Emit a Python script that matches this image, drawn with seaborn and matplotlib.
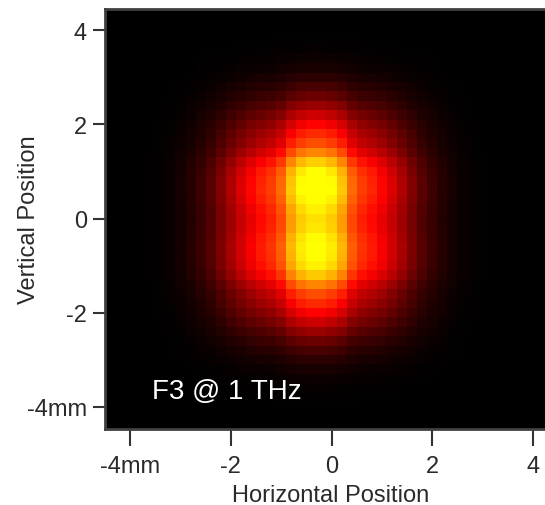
import numpy as np
import pandas as pd
import matplotlib
matplotlib.use("Agg")
import matplotlib.pyplot as plt
from matplotlib.colors import LinearSegmentedColormap
import seaborn as sns

# ---- data (cell centres every 0.2 mm) ----
x_mm = [-4.4, -4.2, -4.0, -3.8, -3.6, -3.4, -3.2, -3.0, -2.8, -2.6,
        -2.4, -2.2, -2.0, -1.8, -1.6, -1.4, -1.2, -1.0, -0.8, -0.6,
        -0.4, -0.2, 0.0, 0.2, 0.4, 0.6, 0.8, 1.0, 1.2, 1.4,
        1.6, 1.8, 2.0, 2.2, 2.4, 2.6, 2.8, 3.0, 3.2, 3.4,
        3.6, 3.8, 4.0, 4.2, 4.4]
horizontal_profile = [0, 0, 0, 0, 0.005, 0.01, 0.02, 0.04, 0.07, 0.11,
                      0.16, 0.23, 0.31, 0.39, 0.46, 0.52, 0.57, 0.66, 0.84, 0.95,
                      1.0, 1.0, 0.95, 0.84, 0.66, 0.57, 0.52, 0.46, 0.39, 0.31,
                      0.23, 0.16, 0.11, 0.07, 0.04, 0.02, 0.01, 0.005, 0, 0,
                      0, 0, 0, 0, 0]
y_mm = [4.4, 4.2, 4.0, 3.8, 3.6, 3.4, 3.2, 3.0, 2.8, 2.6,
        2.4, 2.2, 2.0, 1.8, 1.6, 1.4, 1.2, 1.0, 0.8, 0.6,
        0.4, 0.2, 0.0, -0.2, -0.4, -0.6, -0.8, -1.0, -1.2, -1.4,
        -1.6, -1.8, -2.0, -2.2, -2.4, -2.6, -2.8, -3.0, -3.2, -3.4,
        -3.6, -3.8, -4.0, -4.2, -4.4]
vertical_profile = [0, 0, 0.003, 0.006, 0.012, 0.025, 0.045, 0.08, 0.13, 0.19,
                    0.27, 0.36, 0.45, 0.53, 0.60, 0.71, 0.85, 0.95, 0.99, 1.0,
                    0.97, 0.92, 0.89, 0.90, 0.94, 0.96, 0.95, 0.92, 0.84, 0.71,
                    0.60, 0.53, 0.45, 0.36, 0.27, 0.19, 0.13, 0.08, 0.045, 0.025,
                    0.012, 0.006, 0.003, 0, 0]
x_ticks = [-4, -2, 0, 2, 4]
x_ticklabels = ["-4mm", "-2", "0", "2", "4"]
y_ticks = [4, 2, 0, -2, -4]
y_ticklabels = ["4", "2", "0", "-2", "-4mm"]
annotation = "F3 @ 1 THz"

intensity = pd.DataFrame(np.outer(vertical_profile, horizontal_profile),
                         index=y_mm, columns=x_mm)

# ---- style ----
sns.set_style("white")
plt.rcParams['font.family'] = ['Liberation Sans', 'DejaVu Sans']

cmap = LinearSegmentedColormap.from_list(
    "blk_red_yel", [(0.0, (0, 0, 0)), (0.45, (1, 0, 0)),
                    (0.95, (1, 1, 0)), (1.0, (1, 1, 0))])

fig = plt.figure(figsize=(5.45, 5.06), dpi=100)
ax = fig.add_axes([105 / 545, 76 / 506, 453 / 545, 420 / 506])

sns.heatmap(intensity, ax=ax, cmap=cmap, vmin=0, vmax=1, cbar=False,
            xticklabels=False, yticklabels=False)

step = 0.2
def xpos(v):
    return (v - (x_mm[0] - step / 2)) / step

def ypos(v):
    return ((y_mm[0] + step / 2) - v) / step

ax.set_xlim(xpos(-4.5), xpos(4.5))
ax.set_ylim(ypos(-4.47), ypos(4.45))

ax.set_xticks([xpos(v) for v in x_ticks])
ax.set_xticklabels(x_ticklabels)
ax.set_yticks([ypos(v) for v in y_ticks])
ax.set_yticklabels(y_ticklabels, rotation=0)

for s in ax.spines.values():
    s.set_visible(True)
    s.set_color("#404040")
    s.set_linewidth(2.0)

ax.tick_params(axis="x", direction="out", length=12, width=1.5,
               color="#333333", pad=7, labelsize=17, labelcolor="#2a2a2a",
               bottom=True)
ax.tick_params(axis="y", direction="out", length=9, width=1.5,
               color="#333333", pad=4, labelsize=17, labelcolor="#2a2a2a",
               left=True)

ax.set_xlabel("Horizontal Position", fontsize=17, color="#2a2a2a")
ax.set_ylabel("Vertical Position", fontsize=17, color="#2a2a2a")
ax.xaxis.set_label_coords(0.497, -0.131)
ax.yaxis.set_label_coords(-0.1435, 0.5)

ax.text(xpos(-3.56), ypos(-3.82), annotation, color="white", fontsize=20,
        ha="left", va="baseline")

fig.savefig("out.png", dpi=100, facecolor="white")
